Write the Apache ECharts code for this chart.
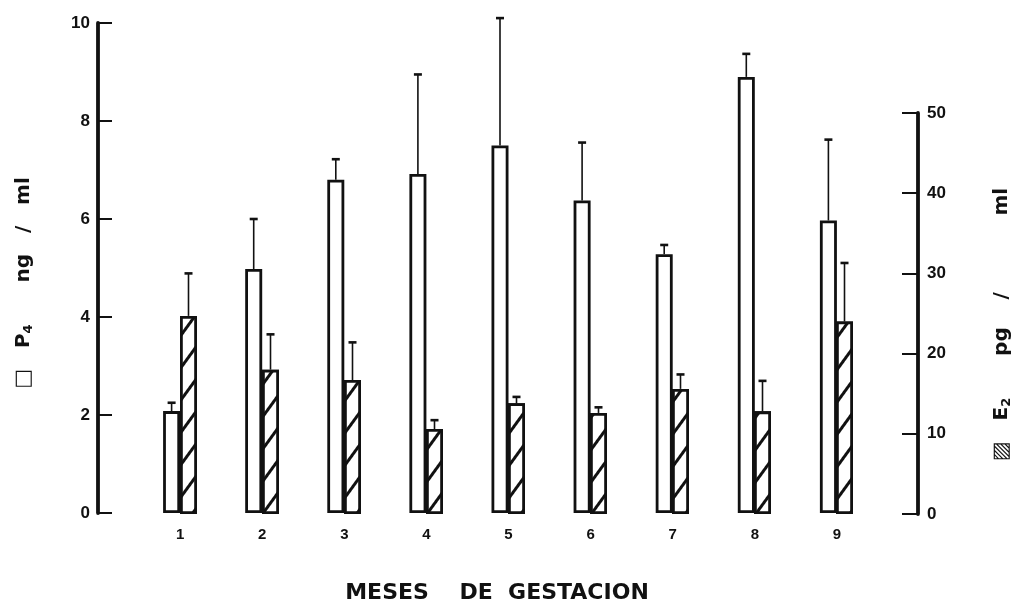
<!DOCTYPE html>
<html><head><meta charset="utf-8">
<script src="https://cdn.jsdelivr.net/npm/echarts@6/dist/echarts.min.js"></script>
<style>html,body{margin:0;padding:0;background:#fff}#c{width:1022px;height:609px}</style>
</head><body><div id="c"></div>
<script>
// ---- data ----
const months = [1, 2, 3, 4, 5, 6, 7, 8, 9];
const monthLabels = ['1', '2', '3', '4', '5', '6', '7', '8', '9'];
const p4Mean  = [2.08, 4.98, 6.80, 6.92, 7.50, 6.38, 5.28, 8.90, 5.97];
const p4Upper = [2.25, 6.00, 7.22, 8.95, 10.10, 7.56, 5.47, 9.37, 7.62];
const e2Mean  = [24.7, 18.0, 16.7, 10.6, 13.8, 12.6, 15.6, 12.8, 24.0];
const e2Upper = [30.0, 22.4, 21.4, 11.7, 14.6, 13.3, 17.4, 16.6, 31.3];
const p4TickValues = [0, 2, 4, 6, 8, 10];
const e2TickValues = [0, 10, 20, 30, 40, 50];
const xTitle = 'MESES    DE  GESTACION';
const p4Title = '{box|□}   P{sub|4}      ng   /   ml';
const e2Title = '{box|▨}   E{sub|2}      pg    /           ml';

// ---- styling ----
const INK = '#111';
const FONT = 'Liberation Sans';
const NAME_FONT = 'DejaVu Sans';
const BAR_W = 17;
const CAP = 8;

const chart = echarts.init(document.getElementById('c'), null, {renderer: 'canvas'});

function errBar(sign) {
  return function (params, api) {
    const x = api.value(0), m = api.value(1), u = api.value(2);
    const p0 = api.coord([x, m]);
    const p1 = api.coord([x, u]);
    const cx = p0[0] + sign * BAR_W / 2;
    return {
      type: 'group',
      children: [
        {type: 'line', shape: {x1: cx, y1: p0[1], x2: cx, y2: p1[1]}, style: {stroke: INK, lineWidth: 1.6}},
        {type: 'line', shape: {x1: cx - CAP / 2, y1: p1[1], x2: cx + CAP / 2, y2: p1[1]}, style: {stroke: INK, lineWidth: 2.6}}
      ]
    };
  };
}

const xCommon = {
  type: 'value', min: 0, max: 10, interval: 1,
  axisLine: {show: false}, axisTick: {show: false}, splitLine: {show: false}
};

const nameRich = {
  box: {fontSize: 21, fontFamily: 'DejaVu Sans', color: INK},
  sub: {fontSize: 13, fontWeight: 'bold', fontFamily: NAME_FONT, color: INK, padding: [9, 0, 0, 0]}
};

const option = {
  backgroundColor: '#fff',
  animation: false,
  textStyle: {fontFamily: FONT, color: INK},
  grid: [
    {left: 98, right: 103, top: 23, bottom: 95, containLabel: false},
    {left: 98, right: 103, top: 113, bottom: 95, containLabel: false}
  ],
  xAxis: [
    Object.assign({}, xCommon, {
      gridIndex: 0,
      axisLabel: {
        show: true, margin: 14, fontSize: 15, fontWeight: 'bold', color: INK, fontFamily: FONT,
        formatter: v => { const i = months.indexOf(v); return i >= 0 ? monthLabels[i] : ''; }
      },
      name: xTitle, nameLocation: 'middle', nameGap: 69,
      nameTextStyle: {fontSize: 22, fontWeight: 'bold', color: INK, fontFamily: NAME_FONT, padding: [0, 23, 0, 0]}
    }),
    Object.assign({}, xCommon, {gridIndex: 1, axisLabel: {show: false}})
  ],
  yAxis: [
    {
      type: 'value', gridIndex: 0, position: 'left',
      min: p4TickValues[0], max: p4TickValues[p4TickValues.length - 1], interval: p4TickValues[1] - p4TickValues[0],
      splitLine: {show: false},
      axisLine: {show: true, onZero: false, lineStyle: {color: INK, width: 3.8}},
      axisTick: {show: true, inside: true, length: 14, lineStyle: {color: INK, width: 2}},
      axisLabel: {margin: 8, fontSize: 17, fontWeight: 'bold', color: INK, fontFamily: FONT},
      name: p4Title,
      nameLocation: 'middle', nameRotate: 90, nameGap: 62,
      nameTextStyle: {
        fontSize: 20, fontWeight: 'bold', color: INK, fontFamily: NAME_FONT, lineHeight: 24,
        padding: [0, 30, 0, 0], rich: nameRich
      }
    },
    {
      type: 'value', gridIndex: 1, position: 'right',
      min: e2TickValues[0], max: e2TickValues[e2TickValues.length - 1], interval: e2TickValues[1] - e2TickValues[0],
      splitLine: {show: false},
      axisLine: {show: true, onZero: false, lineStyle: {color: INK, width: 3.8}},
      axisTick: {show: true, inside: true, length: 16, lineStyle: {color: INK, width: 2}},
      axisLabel: {margin: 9, fontSize: 17, fontWeight: 'bold', color: INK, fontFamily: FONT},
      name: e2Title,
      nameLocation: 'middle', nameRotate: 90, nameGap: 72,
      nameTextStyle: {
        fontSize: 20, fontWeight: 'bold', color: INK, fontFamily: NAME_FONT, lineHeight: 24,
        padding: [0, 22, 0, 0], rich: nameRich
      }
    }
  ],
  series: [
    {
      name: 'P4', type: 'bar', xAxisIndex: 0, yAxisIndex: 0, barWidth: BAR_W, barGap: '0%',
      data: months.map((m, i) => [m, p4Mean[i]]),
      itemStyle: {color: '#fff', borderColor: INK, borderWidth: 2.8}
    },
    {name: 'slot-a', type: 'bar', xAxisIndex: 0, yAxisIndex: 0, barWidth: BAR_W, barGap: '0%', data: []},
    {name: 'slot-b', type: 'bar', xAxisIndex: 1, yAxisIndex: 1, barWidth: BAR_W, barGap: '0%', data: []},
    {
      name: 'E2', type: 'bar', xAxisIndex: 1, yAxisIndex: 1, barWidth: BAR_W, barGap: '0%',
      data: months.map((m, i) => [m, e2Mean[i]]),
      itemStyle: {
        color: '#fff', borderColor: INK, borderWidth: 2.8,
        decal: {
          symbol: 'rect', symbolSize: 1, color: INK, backgroundColor: '#fff',
          dashArrayX: [1, 0], dashArrayY: [3, 16], rotation: -Math.PI * 0.3
        }
      }
    },
    {
      name: 'P4 err', type: 'custom', xAxisIndex: 0, yAxisIndex: 0, clip: false, z: 5,
      renderItem: errBar(-1),
      encode: {x: 0, y: [1, 2]},
      data: months.map((m, i) => [m, p4Mean[i], p4Upper[i]])
    },
    {
      name: 'E2 err', type: 'custom', xAxisIndex: 1, yAxisIndex: 1, clip: false, z: 5,
      renderItem: errBar(1),
      encode: {x: 0, y: [1, 2]},
      data: months.map((m, i) => [m, e2Mean[i], e2Upper[i]])
    }
  ]
};
chart.setOption(option);
</script>
</body></html>
